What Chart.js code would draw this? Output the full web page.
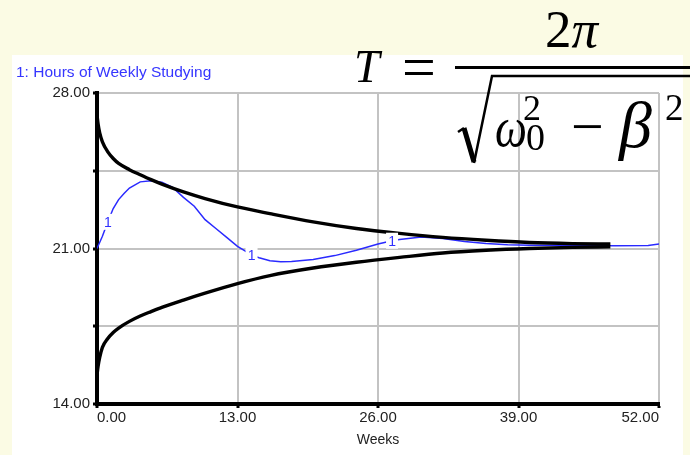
<!DOCTYPE html>
<html><head><meta charset="utf-8">
<script src="https://cdn.jsdelivr.net/npm/chart.js@4.4.0/dist/chart.umd.min.js"></script>
<style>
html,body{margin:0;padding:0;background:#FBFBE4;width:690px;height:455px;overflow:hidden;position:relative;font-family:"Liberation Sans",Arial,sans-serif;}
#panel{position:absolute;left:12px;top:55px;width:671px;height:400px;background:#fff;}
#c{position:absolute;left:0;top:0;}
.f{position:absolute;font-family:"Liberation Serif","Times New Roman",serif;color:#000;line-height:1;white-space:nowrap;z-index:5;transform-origin:0 0;}
#rad{position:absolute;left:0;top:0;z-index:5;}
</style></head><body>
<div id="panel"><canvas id="c" width="671" height="400"></canvas></div>
<div class="f" style="left:354px;top:44px;font-size:46px;font-style:italic">T</div>
<div class="f" style="left:402px;top:37px;font-size:60px">=</div>
<div class="f" style="left:545px;top:3px;font-size:53px">2<i>π</i></div>
<div style="position:absolute;left:455px;top:66px;width:240px;height:3px;background:#000;z-index:5"></div>
<svg id="rad" width="690" height="455"><path d="M458,132 L464,128" stroke="#000" stroke-width="2.5" fill="none"/><path d="M464,128 L474,162" stroke="#000" stroke-width="5" fill="none"/><path d="M474,163 L492,76 L700,76" stroke="#000" stroke-width="2.5" fill="none"/></svg>
<div class="f" style="left:495px;top:98px;font-size:58px;font-style:italic;transform:scaleX(0.78)">ω</div>
<div class="f" style="left:523px;top:90px;font-size:36px">2</div>
<div class="f" style="left:526px;top:118px;font-size:38px">0</div>
<div class="f" style="left:571px;top:98px;font-size:58px">−</div>
<div class="f" style="left:619px;top:92px;font-size:66px;font-style:italic">β</div>
<div class="f" style="left:665px;top:89px;font-size:37px">2</div>
<script>
// Envelope curves (Weeks vs Hours)
const weeksEnvelope = [0,0.1,0.25,0.5,1,1.5,2,3,4,5,6,8,10,13,16,20,24,28,32,36,40,44,47.5];
const upperEnvelope = [27.0,26.6,26.2,25.8,25.35,25.05,24.83,24.55,24.32,24.1,23.9,23.55,23.25,22.87,22.57,22.2,21.9,21.68,21.5,21.37,21.27,21.22,21.2];
const lowerEnvelope = [15.3,15.7,16.1,16.55,16.95,17.22,17.42,17.72,17.96,18.16,18.35,18.68,18.99,19.42,19.78,20.12,20.38,20.6,20.8,20.92,21.0,21.05,21.08];
// Series 1: Hours of Weekly Studying
const weeksStudy = [0,0.5,1,1.5,2,2.5,3,4,5,6,7,8,9,10,11,12,13,14,14.3,15,16,17,18,20,22,24,26,27.3,28,30,32,34,36,38,40,44,48,51,52];
const hoursStudy = [21.0,21.55,22.2,22.8,23.2,23.48,23.72,24.0,24.05,23.98,23.75,23.3,22.9,22.3,21.9,21.5,21.1,20.8,20.7,20.58,20.45,20.4,20.42,20.5,20.68,20.92,21.2,21.35,21.4,21.52,21.45,21.32,21.22,21.17,21.15,21.13,21.12,21.13,21.2];
const labelWeeks = [1, 14.3, 27.3];
const xTicks = [0, 13, 26, 39, 52];
const yLabelled = [14, 21, 28];
const seriesName = '1: Hours of Weekly Studying';
const xTitle = 'Weeks';

const pts = (xs, ys) => xs.map((x, i) => ({x: x, y: ys[i]}));
const FONT = 'Liberation Sans';

const extras = {
  id: 'extras',
  afterDatasetsDraw(chart) {
    const ctx = chart.ctx;
    const meta = chart.getDatasetMeta(2);
    ctx.save();
    ctx.font = '14px ' + FONT;
    ctx.textAlign = 'center';
    ctx.textBaseline = 'middle';
    labelWeeks.forEach(w => {
      const i = weeksStudy.indexOf(w);
      const el = meta.data[i];
      ctx.fillStyle = '#fff';
      ctx.fillRect(el.x - 6, el.y - 8, 12, 16);
      ctx.fillStyle = '#3030ff';
      ctx.fillText('1', el.x, el.y + 1);
    });
    ctx.restore();
  },
  afterDraw(chart) {
    const ctx = chart.ctx;
    ctx.save();
    ctx.font = '15.5px ' + FONT;
    ctx.fillStyle = '#3535ff';
    ctx.textAlign = 'left';
    ctx.textBaseline = 'alphabetic';
    ctx.fillText(seriesName, 4, 22);
    ctx.restore();
  }
};

new Chart(document.getElementById('c'), {
  type: 'line',
  data: {
    datasets: [
      {data: pts(weeksEnvelope, upperEnvelope), borderColor: '#000', borderWidth: 3.4, cubicInterpolationMode: 'monotone', pointRadius: 0},
      {data: pts(weeksEnvelope, lowerEnvelope), borderColor: '#000', borderWidth: 3.4, cubicInterpolationMode: 'monotone', pointRadius: 0},
      {data: pts(weeksStudy, hoursStudy), borderColor: '#2a2aff', borderWidth: 1.5, tension: 0, pointRadius: 0}
    ]
  },
  options: {
    responsive: false,
    animation: false,
    layout: {padding: {top: 38, right: 24, left: 0, bottom: 0}},
    plugins: {legend: {display: false}, tooltip: {enabled: false}, title: {display: false}},
    scales: {
      x: {
        type: 'linear', min: 0, max: 52,
        afterBuildTicks(s) { s.ticks = xTicks.map(v => ({value: v})); },
        ticks: {align: 'inner', maxRotation: 0, autoSkip: false, padding: 1, color: '#222', font: {family: FONT, size: 15}, callback: v => v.toFixed(2)},
        grid: {color: '#c3c3c3', lineWidth: 2, tickColor: '#000', tickLength: 4, tickWidth: 3},
        border: {color: '#000', width: 4},
        title: {display: true, text: xTitle, color: '#222', font: {family: FONT, size: 14}, padding: {top: 0, bottom: 6}},
        afterFit(s) { s.height = 51; }
      },
      y: {
        min: 14, max: 28,
        ticks: {stepSize: 3.5, padding: 3, color: '#222', font: {family: FONT, size: 15}, callback: v => yLabelled.includes(v) ? v.toFixed(2) : ''},
        grid: {color: '#c3c3c3', lineWidth: 2, tickColor: '#000', tickLength: 4, tickWidth: 3},
        border: {color: '#000', width: 4},
        afterFit(s) { s.width = 85; }
      }
    }
  },
  plugins: [extras]
});
</script>
</body></html>
